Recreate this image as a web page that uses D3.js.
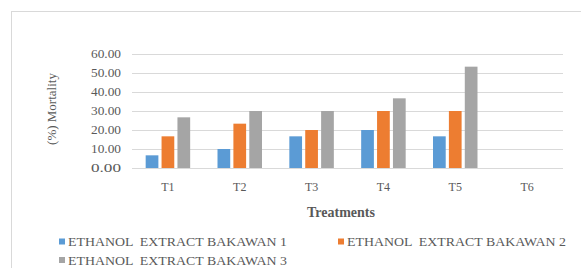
<!DOCTYPE html>
<html>
<head>
<meta charset="utf-8">
<script src="https://cdnjs.cloudflare.com/ajax/libs/d3/7.8.5/d3.min.js"></script>
<style>
  body { margin: 0; background: #fff; }
  #plot { width: 581px; height: 268px; }
  text { font-family: "Liberation Serif", "Times New Roman", serif; fill: #595959; white-space: pre; }
</style>
</head>
<body>
<div id="plot"></div>
<script>
// chart data
var treatments = ['T1', 'T2', 'T3', 'T4', 'T5', 'T6'];
var seriesNames = ['ETHANOL  EXTRACT BAKAWAN 1', 'ETHANOL  EXTRACT BAKAWAN 2', 'ETHANOL  EXTRACT BAKAWAN 3'];
var bakawan1 = [6.67, 10.00, 16.67, 20.00, 16.67, 0];
var bakawan2 = [16.67, 23.33, 20.00, 30.00, 30.00, 0];
var bakawan3 = [26.67, 30.00, 30.00, 36.67, 53.33, 0];
var yTicks = [0, 10, 20, 30, 40, 50, 60];
var colors = ['#5B9BD5', '#ED7D31', '#A5A5A5'];

var allSeries = [bakawan1, bakawan2, bakawan3];

var svg = d3.select('#plot')
    .append('svg')
    .attr('width', 581)
    .attr('height', 268);

// outer frame (only top and left visible)
svg.append('rect')
    .attr('x', 11.5).attr('y', 11.5)
    .attr('width', 600).attr('height', 300)
    .style('fill', 'none')
    .style('stroke', '#D9D9D9');

var plotL = 132, plotR = 563, plotT = 54, plotB = 168;

var x = d3.scaleBand().domain(treatments).range([plotL, plotR]);
var x1 = d3.scaleBand().domain(d3.range(3)).range([0, 44.5]).paddingInner(0.2);
var y = d3.scaleLinear().domain([0, 60]).range([plotB, plotT]);

// gridlines
svg.append('g').selectAll('line')
    .data(yTicks)
    .enter().append('line')
    .attr('x1', plotL).attr('x2', plotR)
    .attr('y1', function(d){ return Math.round(y(d)) + 0.5; })
    .attr('y2', function(d){ return Math.round(y(d)) + 0.5; })
    .style('stroke', '#D9D9D9')
    .style('stroke-width', 1);

// y tick labels
svg.append('g').selectAll('text')
    .data(yTicks)
    .enter().append('text')
    .attr('x', 121)
    .attr('y', function(d){ return y(d); })
    .attr('dy', '0.35em')
    .attr('text-anchor', 'end')
    .attr('textLength', 30)
    .attr('lengthAdjust', 'spacingAndGlyphs')
    .style('font-size', '12px')
    .text(function(d){ return d.toFixed(2); });

// bars
allSeries.forEach(function(vals, s) {
    svg.append('g').selectAll('rect')
        .data(vals)
        .enter().append('rect')
        .attr('x', function(d, i){ return x(treatments[i]) + x.bandwidth()/2 - 22.25 + x1(s); })
        .attr('y', function(d){ return y(d); })
        .attr('width', x1.bandwidth())
        .attr('height', function(d){ return plotB - y(d); })
        .style('fill', colors[s]);
});

// x tick labels
svg.append('g').selectAll('text')
    .data(treatments)
    .enter().append('text')
    .attr('x', function(d){ return x(d) + x.bandwidth()/2; })
    .attr('y', 187)
    .attr('dy', '0.35em')
    .attr('text-anchor', 'middle')
    .style('font-size', '12px')
    .text(function(d){ return d; });

// axis titles
svg.append('text')
    .attr('x', 341).attr('y', 212)
    .attr('dy', '0.35em')
    .attr('text-anchor', 'middle')
    .style('font-size', '14px')
    .style('font-weight', 'bold')
    .text('Treatments');

svg.append('text')
    .attr('transform', 'translate(51,109) rotate(-90)')
    .attr('dy', '0.35em')
    .attr('text-anchor', 'middle')
    .style('font-size', '13px')
    .text('(%) Mortality');

// legend
var legendPos = [[59, 241.5], [338, 241.5], [59, 260]];
seriesNames.forEach(function(name, s) {
    var g = svg.append('g').attr('transform', 'translate(' + legendPos[s][0] + ',' + legendPos[s][1] + ')');
    g.append('rect')
        .attr('x', 0).attr('y', -3)
        .attr('width', 6).attr('height', 6)
        .style('fill', colors[s]);
    g.append('text')
        .attr('x', 9).attr('y', 0)
        .attr('dy', '0.35em')
        .attr('textLength', 219)
        .attr('lengthAdjust', 'spacingAndGlyphs')
        .style('font-size', '13px')
        .text(name);
});
</script>
</body>
</html>
